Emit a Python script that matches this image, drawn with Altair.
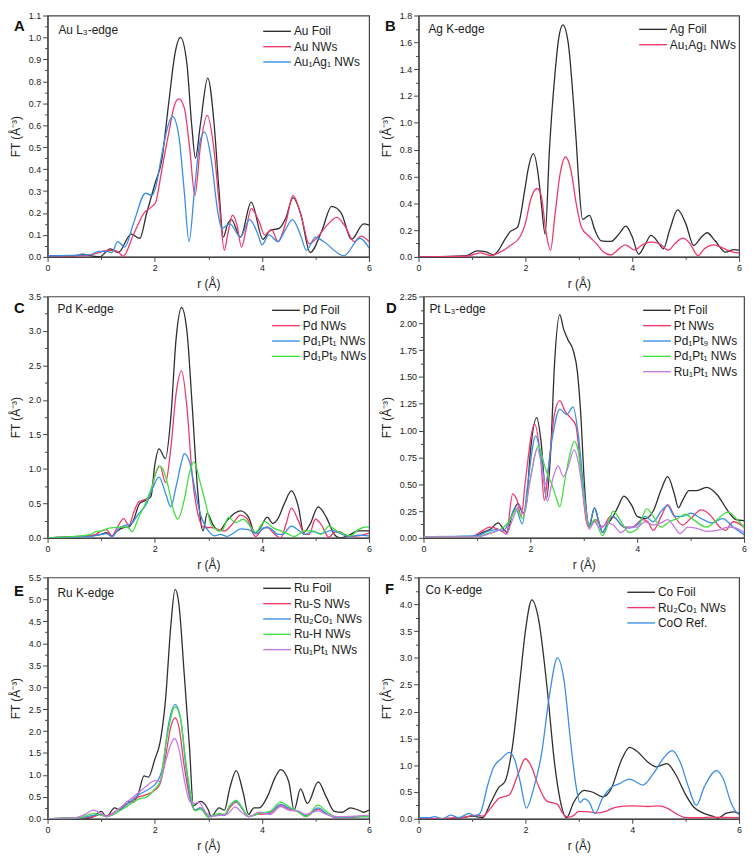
import altair as alt
import pandas as pd

FONT = "Liberation Sans"
C_BLACK = "#2e2e2e"
C_PINK = "#f0386b"
C_BLUE = "#3a8ee6"
C_GREEN = "#3fe03f"
C_PURPLE = "#c27ce3"

# ---------------- Panel A : Au L3-edge ----------------
A_NAMES = ["Au Foil", "Au NWs", "Au₁Ag₁ NWs"]
A_FOIL_R = [0, 0.5, 0.65, 0.8, 0.97, 1.17, 1.32, 1.56, 1.72, 1.85, 2.0, 2.13, 2.26, 2.38, 2.48, 2.6, 2.69, 2.76, 2.85, 2.99, 3.11, 3.2, 3.28, 3.36, 3.43, 3.6, 3.8, 4.02, 4.15, 4.32, 4.45, 4.58, 4.72, 4.9, 5.12, 5.3, 5.48, 5.67, 5.9, 6.0]
A_FOIL_V = [0.005, 0.005, 0.012, 0.006, 0.0, 0.037, 0.02, 0.104, 0.085, 0.2, 0.33, 0.44, 0.7, 0.93, 1.0, 0.88, 0.6, 0.45, 0.6, 0.815, 0.6, 0.3, 0.09, 0.15, 0.17, 0.09, 0.25, 0.08, 0.12, 0.13, 0.18, 0.27, 0.2, 0.02, 0.12, 0.23, 0.2, 0.08, 0.15, 0.145]
A_NW_R = [0, 0.6, 0.9, 1.1, 1.22, 1.33, 1.41, 1.6, 1.8, 1.95, 2.02, 2.12, 2.25, 2.38, 2.45, 2.55, 2.65, 2.75, 2.85, 2.98, 3.1, 3.2, 3.3, 3.36, 3.45, 3.53, 3.62, 3.7, 3.8, 3.95, 4.05, 4.18, 4.3, 4.45, 4.58, 4.75, 4.88, 5.0, 5.2, 5.4, 5.55, 5.72, 5.85, 6.0]
A_NW_V = [0.005, 0.005, 0.015, 0.03, 0.03, 0.02, 0.003, 0.1, 0.2, 0.23, 0.25, 0.38, 0.55, 0.7, 0.72, 0.68, 0.5, 0.28, 0.5, 0.645, 0.5, 0.25, 0.03, 0.1, 0.19, 0.15, 0.045, 0.12, 0.22, 0.16, 0.1, 0.125, 0.07, 0.16, 0.28, 0.17, 0.06, 0.08, 0.14, 0.18, 0.14, 0.07, 0.095, 0.07]
A_AUAG_R = [0, 0.8, 0.95, 1.1, 1.2, 1.31, 1.44, 1.6, 1.83, 1.95, 2.02, 2.12, 2.25, 2.33, 2.45, 2.55, 2.64, 2.74, 2.84, 2.93, 3.05, 3.18, 3.25, 3.4, 3.6, 3.77, 3.93, 4.0, 4.13, 4.3, 4.43, 4.57, 4.72, 4.83, 5.0, 5.15, 5.53, 5.83, 6.0]
A_AUAG_V = [0.005, 0.01, 0.025, 0.025, 0.02, 0.07, 0.045, 0.15, 0.29, 0.28, 0.32, 0.45, 0.6, 0.64, 0.55, 0.3, 0.07, 0.3, 0.52, 0.57, 0.45, 0.2, 0.13, 0.15, 0.09, 0.17, 0.1, 0.055, 0.1, 0.07, 0.12, 0.17, 0.1, 0.03, 0.09, 0.07, 0.005, 0.085, 0.04]

# ---------------- Panel B : Ag K-edge ----------------
B_NAMES = ["Ag Foil", "Au₁Ag₁ NWs"]
B_FOIL_R = [0, 0.7, 0.9, 1.1, 1.25, 1.4, 1.5, 1.6, 1.72, 1.85, 2.0, 2.05, 2.15, 2.25, 2.3, 2.37, 2.45, 2.55, 2.62, 2.7, 2.8, 2.9, 2.95, 3.0, 3.07, 3.2, 3.3, 3.42, 3.6, 3.75, 3.88, 4.0, 4.12, 4.25, 4.35, 4.5, 4.58, 4.7, 4.85, 5.0, 5.15, 5.3, 5.4, 5.55, 5.75, 5.9, 6.0]
B_FOIL_V = [0.0, 0.005, 0.01, 0.045, 0.04, 0.015, 0.05, 0.12, 0.19, 0.22, 0.53, 0.65, 0.77, 0.58, 0.39, 0.17, 0.8, 1.35, 1.62, 1.73, 1.6, 1.15, 0.87, 0.55, 0.28, 0.31, 0.2, 0.12, 0.115, 0.17, 0.23, 0.15, 0.02, 0.1, 0.16, 0.1, 0.06, 0.2, 0.35, 0.25, 0.085, 0.15, 0.18, 0.12, 0.035, 0.055, 0.05]
B_AUAG_R = [0, 0.9, 1.15, 1.35, 1.5, 1.7, 1.9, 2.0, 2.1, 2.22, 2.3, 2.38, 2.47, 2.55, 2.65, 2.75, 2.85, 2.95, 3.05, 3.2, 3.35, 3.45, 3.6, 3.75, 3.87, 4.05, 4.15, 4.35, 4.5, 4.68, 4.8, 4.95, 5.08, 5.23, 5.35, 5.52, 5.7, 5.85, 6.0]
B_AUAG_V = [0.0, 0.005, 0.03, 0.01, 0.03, 0.08, 0.15, 0.25, 0.43, 0.51, 0.45, 0.2, 0.05, 0.3, 0.62, 0.745, 0.65, 0.4, 0.22, 0.15, 0.09, 0.04, 0.015, 0.06, 0.09, 0.05, 0.08, 0.11, 0.1, 0.05, 0.1, 0.14, 0.1, 0.01, 0.06, 0.09, 0.065, 0.04, 0.03]

# ---------------- Panel C : Pd K-edge ----------------
C_NAMES = ["Pd Foil", "Pd NWs", "Pd₁Pt₁ NWs", "Pd₁Pt₉ NWs"]
C_FOIL_R = [0, 0.6, 0.8, 1.0, 1.1, 1.2, 1.3, 1.42, 1.52, 1.6, 1.72, 1.85, 1.93, 2.0, 2.08, 2.2, 2.3, 2.4, 2.5, 2.6, 2.7, 2.8, 2.9, 2.98, 3.08, 3.2, 3.35, 3.5, 3.6, 3.75, 3.87, 3.95, 4.1, 4.2, 4.3, 4.42, 4.55, 4.68, 4.78, 4.9, 5.05, 5.2, 5.35, 5.45, 5.6, 5.8, 6.0]
C_FOIL_V = [0.0, 0.02, 0.03, 0.05, 0.075, 0.02, 0.1, 0.15, 0.16, 0.25, 0.5, 0.55, 0.6, 1.05, 1.29, 1.15, 1.75, 2.9, 3.34, 3.0, 1.9, 0.7, 0.1, 0.36, 0.2, 0.1, 0.25, 0.36, 0.39, 0.3, 0.07, 0.12, 0.3, 0.21, 0.28, 0.5, 0.68, 0.45, 0.08, 0.2, 0.45, 0.3, 0.05, 0.0, 0.03, 0.1, 0.1]
C_NW_R = [0, 0.7, 0.9, 1.0, 1.1, 1.2, 1.3, 1.42, 1.52, 1.6, 1.7, 1.8, 1.9, 2.0, 2.1, 2.2, 2.3, 2.4, 2.5, 2.6, 2.7, 2.82, 2.92, 3.05, 3.2, 3.3, 3.45, 3.6, 3.72, 3.88, 4.0, 4.1, 4.2, 4.35, 4.45, 4.55, 4.68, 4.8, 4.88, 5.0, 5.1, 5.25, 5.35, 5.45, 5.6, 5.8, 6.0]
C_NW_V = [0.0, 0.02, 0.05, 0.1, 0.12, 0.03, 0.15, 0.28, 0.18, 0.35, 0.52, 0.55, 0.6, 0.9, 1.04, 0.8, 1.3, 2.1, 2.42, 1.9, 0.9, 0.3, 0.15, 0.15, 0.12, 0.1, 0.2, 0.33, 0.28, 0.02, 0.12, 0.16, 0.08, 0.0, 0.2, 0.43, 0.25, 0.05, 0.05, 0.27, 0.2, 0.01, 0.08, 0.09, 0.02, 0.03, 0.07]
C_PDPT1_R = [0, 0.8, 1.0, 1.1, 1.2, 1.35, 1.45, 1.55, 1.7, 1.85, 1.95, 2.08, 2.2, 2.3, 2.4, 2.5, 2.55, 2.65, 2.75, 2.85, 3.0, 3.12, 3.22, 3.35, 3.45, 3.6, 3.75, 3.9, 4.05, 4.15, 4.3, 4.38, 4.55, 4.7, 4.8, 4.95, 5.1, 5.3, 5.5, 5.65, 5.8, 6.0]
C_PDPT1_V = [0.0, 0.02, 0.05, 0.06, 0.02, 0.15, 0.18, 0.2, 0.35, 0.5, 0.7, 0.88, 0.65, 0.45, 0.75, 1.1, 1.22, 1.1, 0.7, 0.35, 0.1, 0.03, 0.05, 0.02, 0.06, 0.13, 0.12, 0.06, 0.15, 0.14, 0.05, 0.05, 0.17, 0.1, 0.05, 0.09, 0.06, 0.11, 0.05, 0.02, 0.04, 0.03]
C_PDPT9_R = [0, 0.5, 0.8, 0.9, 1.0, 1.1, 1.25, 1.4, 1.5, 1.58, 1.7, 1.8, 1.95, 2.08, 2.15, 2.25, 2.35, 2.43, 2.55, 2.65, 2.73, 2.85, 2.95, 3.05, 3.15, 3.25, 3.38, 3.5, 3.65, 3.8, 3.88, 4.05, 4.2, 4.35, 4.5, 4.6, 4.8, 4.95, 5.1, 5.25, 5.4, 5.55, 5.65, 5.8, 5.95, 6.0]
C_PDPT9_V = [0.0, 0.02, 0.05, 0.09, 0.1, 0.13, 0.15, 0.16, 0.15, 0.09, 0.3, 0.45, 0.75, 1.04, 1.0, 0.75, 0.4, 0.27, 0.55, 0.95, 1.1, 0.8, 0.5, 0.2, 0.12, 0.1, 0.3, 0.22, 0.27, 0.15, 0.08, 0.24, 0.15, 0.1, 0.05, 0.02, 0.1, 0.1, 0.05, 0.17, 0.1, 0.05, 0.03, 0.12, 0.16, 0.15]

# ---------------- Panel D : Pt L3-edge ----------------
D_NAMES = ["Pt Foil", "Pt NWs", "Pd₁Pt₉ NWs", "Pd₁Pt₁ NWs", "Ru₁Pt₁ NWs"]
D_FOIL_R = [0, 0.9, 1.1, 1.25, 1.4, 1.5, 1.57, 1.65, 1.77, 1.86, 1.92, 2.0, 2.12, 2.2, 2.3, 2.38, 2.45, 2.55, 2.62, 2.7, 2.8, 2.88, 2.95, 3.0, 3.05, 3.1, 3.2, 3.28, 3.35, 3.45, 3.55, 3.65, 3.75, 3.9, 4.0, 4.15, 4.3, 4.45, 4.57, 4.7, 4.77, 4.85, 4.97, 5.1, 5.3, 5.5, 5.7, 5.85, 6.0]
D_FOIL_V = [0.01, 0.01, 0.05, 0.08, 0.14, 0.08, 0.05, 0.2, 0.32, 0.23, 0.3, 0.8, 1.12, 0.9, 0.36, 0.8, 1.6, 2.08, 1.95, 1.85, 1.75, 1.55, 1.1, 0.6, 0.25, 0.1, 0.28, 0.15, 0.05, 0.13, 0.2, 0.3, 0.39, 0.3, 0.2, 0.18, 0.25, 0.45, 0.57, 0.4, 0.28, 0.35, 0.44, 0.44, 0.47, 0.4, 0.25, 0.17, 0.16]
D_NW_R = [0, 0.9, 1.05, 1.25, 1.4, 1.55, 1.67, 1.75, 1.83, 1.9, 2.08, 2.2, 2.26, 2.35, 2.45, 2.55, 2.65, 2.75, 2.85, 2.95, 3.05, 3.1, 3.22, 3.35, 3.5, 3.6, 3.75, 3.9, 4.1, 4.2, 4.3, 4.45, 4.57, 4.7, 4.85, 5.0, 5.2, 5.35, 5.55, 5.65, 5.8, 6.0]
D_NW_V = [0.01, 0.01, 0.05, 0.1, 0.08, 0.04, 0.41, 0.35, 0.2, 0.5, 1.06, 0.7, 0.35, 0.7, 1.15, 1.28, 1.18, 1.12, 1.05, 0.6, 0.15, 0.1, 0.17, 0.1, 0.2, 0.18, 0.1, 0.1, 0.17, 0.15, 0.07, 0.2, 0.31, 0.2, 0.12, 0.18, 0.26, 0.22, 0.1, 0.07, 0.15, 0.1]
D_PDPT9_R = [0, 1.0, 1.2, 1.4, 1.5, 1.6, 1.72, 1.85, 1.95, 2.1, 2.2, 2.28, 2.4, 2.55, 2.68, 2.8, 2.9, 3.0, 3.1, 3.2, 3.3, 3.35, 3.45, 3.55, 3.7, 3.85, 4.0, 4.15, 4.3, 4.45, 4.57, 4.7, 4.85, 5.0, 5.2, 5.4, 5.6, 5.8, 6.0]
D_PDPT9_V = [0.01, 0.02, 0.06, 0.08, 0.07, 0.15, 0.28, 0.13, 0.5, 0.95, 0.75, 0.5, 0.9, 1.2, 1.15, 1.22, 0.95, 0.45, 0.12, 0.28, 0.12, 0.05, 0.15, 0.2, 0.12, 0.09, 0.12, 0.2, 0.15, 0.25, 0.3, 0.2, 0.2, 0.23, 0.18, 0.14, 0.18, 0.1, 0.03]
D_PDPT1_R = [0, 1.0, 1.2, 1.4, 1.5, 1.6, 1.75, 1.85, 2.0, 2.15, 2.25, 2.3, 2.4, 2.5, 2.55, 2.65, 2.75, 2.82, 2.9, 3.0, 3.1, 3.2, 3.35, 3.45, 3.55, 3.7, 3.85, 4.0, 4.18, 4.3, 4.45, 4.6, 4.75, 4.9, 5.05, 5.3, 5.45, 5.7, 5.85, 6.0]
D_PDPT1_V = [0.01, 0.01, 0.04, 0.07, 0.1, 0.15, 0.27, 0.18, 0.55, 0.86, 0.7, 0.62, 0.5, 0.35, 0.29, 0.55, 0.8, 0.9, 0.8, 0.4, 0.1, 0.17, 0.02, 0.12, 0.25, 0.15, 0.05, 0.08, 0.27, 0.2, 0.1, 0.15, 0.18, 0.22, 0.17, 0.1, 0.15, 0.24, 0.18, 0.1]
D_RUPT_R = [0, 1.0, 1.3, 1.45, 1.55, 1.65, 1.8, 1.88, 2.0, 2.13, 2.25, 2.32, 2.42, 2.52, 2.62, 2.7, 2.82, 2.9, 3.0, 3.1, 3.2, 3.3, 3.45, 3.55, 3.7, 3.85, 4.0, 4.15, 4.3, 4.45, 4.57, 4.7, 4.8, 4.95, 5.1, 5.3, 5.5, 5.7, 5.85, 6.0]
D_RUPT_V = [0.01, 0.01, 0.05, 0.08, 0.03, 0.15, 0.3, 0.22, 0.55, 0.83, 0.55, 0.34, 0.55, 0.67, 0.57, 0.65, 0.82, 0.7, 0.35, 0.08, 0.15, 0.09, 0.14, 0.12, 0.05, 0.1, 0.1, 0.15, 0.12, 0.14, 0.17, 0.1, 0.04, 0.1, 0.09, 0.06, 0.07, 0.1, 0.09, 0.05]

# ---------------- Panel E : Ru K-edge ----------------
E_NAMES = ["Ru Foil", "Ru-S NWs", "Ru₂Co₁ NWs", "Ru-H NWs", "Ru₁Pt₁ NWs"]
E_FOIL_R = [0, 0.5, 0.7, 0.85, 1.0, 1.1, 1.25, 1.35, 1.5, 1.6, 1.7, 1.8, 1.88, 2.0, 2.1, 2.2, 2.3, 2.38, 2.45, 2.55, 2.65, 2.72, 2.85, 3.0, 3.05, 3.2, 3.3, 3.4, 3.52, 3.65, 3.75, 3.85, 3.95, 4.1, 4.25, 4.35, 4.5, 4.6, 4.72, 4.85, 5.05, 5.2, 5.35, 5.5, 5.65, 5.8, 5.9, 6.0]
E_FOIL_V = [0.0, 0.02, 0.0, 0.05, 0.17, 0.05, 0.25, 0.2, 0.4, 0.38, 0.6, 0.98, 0.95, 1.35, 1.75, 2.7, 4.4, 5.23, 4.9, 3.3, 1.6, 0.3, 0.4, 0.2, 0.05, 0.25, 0.2, 0.7, 1.1, 0.6, 0.1, 0.25, 0.25, 0.5, 0.95, 1.12, 0.85, 0.2, 0.68, 0.35, 0.84, 0.5, 0.17, 0.15, 0.25, 0.2, 0.15, 0.2]
E_RUS_R = [0, 0.6, 0.85, 1.0, 1.1, 1.3, 1.5, 1.7, 1.85, 2.0, 2.1, 2.2, 2.3, 2.38, 2.45, 2.55, 2.65, 2.75, 2.85, 3.0, 3.2, 3.3, 3.4, 3.52, 3.65, 3.75, 3.9, 4.15, 4.35, 4.5, 4.7, 4.82, 5.05, 5.2, 5.4, 5.6, 6.0]
E_RUS_V = [0.0, 0.02, 0.05, 0.1, 0.07, 0.2, 0.35, 0.5, 0.55, 0.65, 0.8, 1.4, 2.1, 2.3, 2.1, 1.2, 0.5, 0.2, 0.25, 0.05, 0.1, 0.08, 0.25, 0.38, 0.2, 0.05, 0.1, 0.12, 0.3, 0.22, 0.15, 0.05, 0.22, 0.12, 0.02, 0.03, 0.07]
E_RUCO_R = [0, 0.6, 0.85, 1.0, 1.1, 1.3, 1.5, 1.7, 1.85, 2.05, 2.15, 2.25, 2.38, 2.48, 2.58, 2.68, 2.75, 2.85, 3.0, 3.2, 3.3, 3.4, 3.52, 3.65, 3.75, 3.95, 4.15, 4.35, 4.5, 4.68, 4.82, 5.05, 5.2, 5.4, 5.6, 6.0]
E_RUCO_V = [0.0, 0.02, 0.08, 0.1, 0.05, 0.15, 0.35, 0.55, 0.65, 0.85, 1.2, 2.1, 2.6, 2.3, 1.2, 0.4, 0.2, 0.25, 0.05, 0.1, 0.08, 0.3, 0.4, 0.2, 0.05, 0.12, 0.15, 0.33, 0.25, 0.17, 0.07, 0.25, 0.12, 0.03, 0.04, 0.05]
E_RUH_R = [0, 0.6, 0.85, 1.0, 1.1, 1.3, 1.5, 1.7, 1.85, 2.0, 2.1, 2.22, 2.38, 2.48, 2.58, 2.68, 2.75, 2.85, 3.0, 3.2, 3.3, 3.4, 3.52, 3.65, 3.75, 3.95, 4.15, 4.35, 4.5, 4.68, 4.82, 5.05, 5.2, 5.4, 5.6, 6.0]
E_RUH_V = [0.0, 0.03, 0.12, 0.08, 0.05, 0.15, 0.3, 0.45, 0.5, 0.68, 0.85, 1.8, 2.55, 2.3, 1.3, 0.5, 0.18, 0.22, 0.04, 0.12, 0.1, 0.3, 0.42, 0.22, 0.05, 0.12, 0.17, 0.38, 0.28, 0.15, 0.05, 0.31, 0.17, 0.04, 0.05, 0.05]
E_RUPT_R = [0, 0.5, 0.7, 0.85, 1.0, 1.1, 1.3, 1.5, 1.7, 1.85, 2.0, 2.1, 2.2, 2.3, 2.37, 2.45, 2.55, 2.65, 2.75, 2.82, 2.95, 3.05, 3.2, 3.35, 3.5, 3.62, 3.75, 3.95, 4.15, 4.35, 4.5, 4.7, 4.8, 5.05, 5.2, 5.4, 6.0]
E_RUPT_V = [0.0, 0.02, 0.1, 0.2, 0.12, 0.05, 0.2, 0.4, 0.6, 0.75, 0.87, 0.85, 1.3, 1.7, 1.83, 1.6, 0.9, 0.4, 0.35, 0.38, 0.15, 0.05, 0.08, 0.1, 0.27, 0.15, 0.05, 0.15, 0.1, 0.28, 0.2, 0.17, 0.1, 0.18, 0.1, 0.05, 0.08]

# ---------------- Panel F : Co K-edge ----------------
F_NAMES = ["Co Foil", "Ru₂Co₁ NWs", "CoO Ref."]
F_FOIL_R = [0, 0.5, 0.8, 1.0, 1.2, 1.35, 1.5, 1.62, 1.75, 1.9, 2.0, 2.12, 2.25, 2.4, 2.55, 2.65, 2.77, 2.9, 3.1, 3.25, 3.45, 3.6, 3.8, 3.95, 4.1, 4.3, 4.45, 4.65, 4.8, 5.0, 5.15, 5.3, 5.5, 5.6, 5.75, 5.9, 6.0]
F_FOIL_V = [0.0, 0.0, 0.02, 0.05, 0.02, 0.3, 0.58, 0.7, 1.3, 2.6, 3.5, 4.08, 3.7, 2.5, 1.0, 0.35, 0.02, 0.3, 0.53, 0.5, 0.41, 0.55, 1.1, 1.33, 1.25, 1.05, 0.97, 1.03, 0.85, 0.45, 0.22, 0.12, 0.05, 0.01, 0.1, 0.13, 0.1]
F_RUCO_R = [0, 0.8, 1.0, 1.1, 1.2, 1.35, 1.5, 1.7, 1.85, 2.0, 2.1, 2.25, 2.4, 2.5, 2.6, 2.7, 2.8, 2.9, 3.0, 3.2, 3.35, 3.5, 3.7, 4.0, 4.3, 4.5, 4.65, 4.85, 5.0, 5.3, 5.5, 6.0]
F_RUCO_V = [0.0, 0.02, 0.06, 0.07, 0.05, 0.2, 0.38, 0.45, 0.8, 1.12, 1.0, 0.6, 0.33, 0.3, 0.27, 0.1, 0.03, 0.06, 0.14, 0.13, 0.11, 0.14, 0.22, 0.24, 0.23, 0.24, 0.2, 0.08, 0.02, 0.02, 0.03, 0.02]
F_COO_R = [0, 0.2, 0.3, 0.45, 0.6, 0.75, 0.95, 1.05, 1.15, 1.3, 1.4, 1.55, 1.7, 1.8, 1.9, 2.02, 2.15, 2.3, 2.45, 2.6, 2.72, 2.85, 2.95, 3.02, 3.1, 3.2, 3.3, 3.45, 3.6, 3.75, 3.95, 4.2, 4.4, 4.6, 4.75, 4.9, 5.05, 5.2, 5.35, 5.58, 5.7, 5.85, 5.95, 6.0]
F_COO_V = [0.02, 0.02, 0.04, 0.0, 0.07, 0.02, 0.1, 0.05, 0.1, 0.65, 0.95, 1.12, 1.24, 1.1, 0.7, 0.2, 0.55, 1.2, 2.3, 3.0, 2.6, 1.4, 0.6, 0.3, 0.37, 0.3, 0.1, 0.4, 0.58, 0.65, 0.74, 0.63, 0.85, 1.15, 1.27, 1.05, 0.6, 0.25, 0.6, 0.9, 0.75, 0.3, 0.12, 0.08]

W_LEFT = 325
W_RIGHT = 324
PLOT_H = 244


def tick_test(step):
    return f"abs(datum.value/{step} - round(datum.value/{step})) < 0.001"


def panel(names, series, colors, ymax, minor, major, fmt, letter, title,
          legend_xy, letter_xy, title_xy, width):
    rows = []
    for name, (rs, vs) in zip(names, series):
        for r, v in zip(rs, vs):
            rows.append({"r": r, "FT": v, "series": name})
    df = pd.DataFrame(rows)
    n_minor = int(round(ymax / minor))
    yvals = [round(i * minor, 4) for i in range(n_minor + 1)]

    yaxis = alt.Axis(
        values=yvals,
        labelExpr=f"{tick_test(major)} ? format(datum.value, '{fmt}') : ''",
        tickSize={"condition": {"test": f"!({tick_test(major)})", "value": 3}, "value": 5},
        title="FT (Å⁻³)",
        labelOverlap=False,
    )
    xaxis = alt.Axis(
        values=[0, 1, 2, 3, 4, 5, 6],
        labelExpr=f"{tick_test(2)} ? format(datum.value, 'd') : ''",
        tickSize={"condition": {"test": f"!({tick_test(2)})", "value": 2.5}, "value": 4.5},
        title="r (Å)",
        labelFlush=False,
        labelOverlap=False,
    )
    lines = alt.Chart(df).mark_line(strokeWidth=1.3, interpolate="monotone", clip=True).encode(
        x=alt.X("r:Q", scale=alt.Scale(domain=[0, 6], nice=False, zero=False), axis=xaxis),
        y=alt.Y("FT:Q", scale=alt.Scale(domain=[0, ymax], nice=False), axis=yaxis),
        color=alt.Color(
            "series:N",
            title=None,
            scale=alt.Scale(domain=names, range=colors),
            legend=alt.Legend(
                orient="none", legendX=legend_xy[0], legendY=legend_xy[1],
                symbolType="M-3,0L1,0", symbolSize=196, symbolStrokeWidth=1.4,
                labelFontSize=12, labelFont=FONT, labelColor="#222222",
                labelOffset=2, rowPadding=1.5, padding=0, labelLimit=300,
            ),
        ),
    )
    letter_layer = alt.Chart(pd.DataFrame({"t": [letter]})).mark_text(
        align="left", baseline="alphabetic", fontSize=15, fontWeight="bold",
        font=FONT, color="#111111",
    ).encode(x=alt.value(letter_xy[0]), y=alt.value(letter_xy[1]), text="t:N")
    title_layer = alt.Chart(pd.DataFrame({"t": [title]})).mark_text(
        align="left", baseline="alphabetic", fontSize=12, font=FONT, color="#222222",
    ).encode(x=alt.value(title_xy[0]), y=alt.value(title_xy[1]), text="t:N")
    return alt.layer(lines, letter_layer, title_layer).properties(width=width, height=PLOT_H)


pA = panel(A_NAMES, [(A_FOIL_R, A_FOIL_V), (A_NW_R, A_NW_V), (A_AUAG_R, A_AUAG_V)],
           [C_BLACK, C_PINK, C_BLUE], 1.1, 0.05, 0.1, ".1f", "A", "Au L₃-edge",
           (231, 8), (-34, 16), (11, 18.5), W_LEFT)
pB = panel(B_NAMES, [(B_FOIL_R, B_FOIL_V), (B_AUAG_R, B_AUAG_V)],
           [C_BLACK, C_PINK], 1.8, 0.1, 0.2, ".1f", "B", "Ag K-edge",
           (236, 6), (-34, 16), (10, 18), W_RIGHT)
pC = panel(C_NAMES, [(C_FOIL_R, C_FOIL_V), (C_NW_R, C_NW_V), (C_PDPT1_R, C_PDPT1_V), (C_PDPT9_R, C_PDPT9_V)],
           [C_BLACK, C_PINK, C_BLUE, C_GREEN], 3.5, 0.25, 0.5, ".1f", "C", "Pd K-edge",
           (240, 6), (-34, 17), (10, 17), W_LEFT)
pD = panel(D_NAMES, [(D_FOIL_R, D_FOIL_V), (D_NW_R, D_NW_V), (D_PDPT9_R, D_PDPT9_V), (D_PDPT1_R, D_PDPT1_V), (D_RUPT_R, D_RUPT_V)],
           [C_BLACK, C_PINK, C_BLUE, C_GREEN, C_PURPLE], 2.25, 0.125, 0.25, ".2f", "D", "Pt L₃-edge",
           (235, 6), (-38, 17), (6, 17), W_RIGHT)
pE = panel(E_NAMES, [(E_FOIL_R, E_FOIL_V), (E_RUS_R, E_RUS_V), (E_RUCO_R, E_RUCO_V), (E_RUH_R, E_RUH_V), (E_RUPT_R, E_RUPT_V)],
           [C_BLACK, C_PINK, C_BLUE, C_GREEN, C_PURPLE], 5.5, 0.25, 0.5, ".1f", "E", "Ru K-edge",
           (231, 3), (-34, 19), (10, 20), W_LEFT)
pF = panel(F_NAMES, [(F_FOIL_R, F_FOIL_V), (F_RUCO_R, F_RUCO_V), (F_COO_R, F_COO_V)],
           [C_BLACK, C_PINK, C_BLUE], 4.5, 0.25, 0.5, ".1f", "F", "Co K-edge",
           (224, 7), (-34, 17), (7, 17), W_RIGHT)


def row(a, b):
    return alt.hconcat(a, b, spacing=6).resolve_scale(color="independent").resolve_legend(color="independent")


chart = alt.vconcat(row(pA, pB), row(pC, pD), row(pE, pF), spacing=1).resolve_scale(
    color="independent").resolve_legend(color="independent").properties(
    padding={"top": -2, "left": 0, "right": 0, "bottom": 0}).configure(
    font=FONT
).configure_view(
    stroke="#444444", strokeWidth=1.2
).configure_axis(
    grid=False, domainColor="#444444", domainWidth=1.2, tickColor="#444444", tickWidth=1,
    labelColor="#222222", titleColor="#222222", labelFont=FONT, titleFont=FONT,
    labelFontSize=9, titleFontSize=12, titleFontWeight="normal",
    labelPadding=2
).configure_axisY(
    labelPadding=2, titlePadding=6
).configure_axisX(
    labelPadding=2.5, titlePadding=6
)

chart.save("out.html", embed_options={"renderer": "svg", "actions": False})
